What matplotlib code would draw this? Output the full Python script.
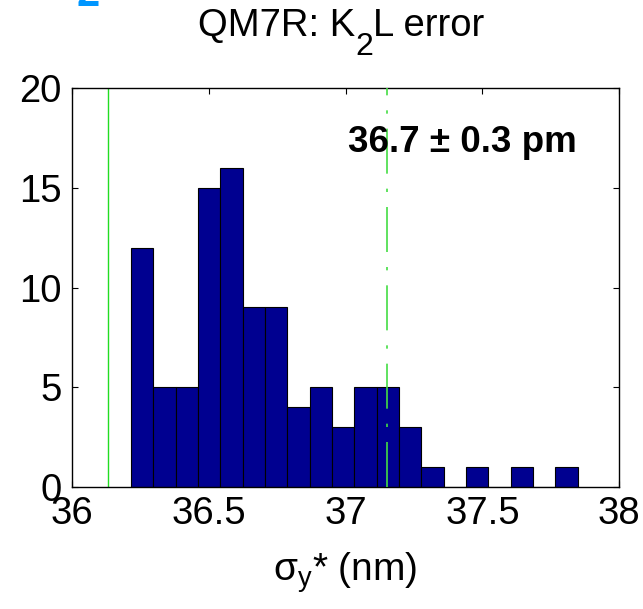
import matplotlib
matplotlib.use("Agg")
import matplotlib.pyplot as plt
import numpy as np

plt.rcParams['font.family'] = ['Liberation Sans', 'DejaVu Sans']
plt.rcParams['mathtext.fontset'] = 'custom'
plt.rcParams['mathtext.rm'] = 'Liberation Sans'
plt.rcParams['mathtext.it'] = 'Liberation Sans'
plt.rcParams['mathtext.bf'] = 'Liberation Sans:bold'

# Histogram data
bin_start = 36.2166
bin_width = 0.08157
counts = [12, 5, 5, 15, 16, 9, 9, 4, 5, 3, 5, 5, 3, 1, 0, 1, 0, 1, 0, 1]
ref_line = 36.1315      # solid green line
mean_line = 37.1527     # dash-dot green line
xticks = [36, 36.5, 37, 37.5, 38]
xticklabels = ['36', '36.5', '37', '37.5', '38']
yticks = [0, 5, 10, 15, 20]
title_parts = ['QM7R: K', '2', 'L error']
annot = '36.7 ± 0.3 pm'
xlabel = r'$\mathregular{\sigma_y}$* (nm)'

edges = bin_start + bin_width * np.arange(len(counts) + 1)

W, H = 643, 609
fig = plt.figure(figsize=(W / 100, H / 100), dpi=100)
ax = fig.add_axes([0.1115, 0.2008, 0.9632 - 0.1115, 0.855 - 0.2008])

ax.bar(edges[:-1], counts, width=bin_width, align='edge',
       color='#000090', edgecolor='black', linewidth=0.8, zorder=2)
ax.axvline(ref_line, color='#22dd22', lw=1.0, zorder=1)
ax.axvline(mean_line, color='#44dd44', lw=1.2,
           linestyle=(0, (27, 9, 2, 9)), zorder=3)

ax.set_xlim(36, 38)
ax.set_ylim(0, 20)
ax.set_xticks(xticks)
ax.set_xticklabels(xticklabels)
ax.set_yticks(yticks)
ax.tick_params(direction='in', top=True, right=True, length=4, width=0.8,
               labelsize=27.5, pad=7)
for s in ax.spines.values():
    s.set_linewidth(1.0)

ax.set_xlabel(xlabel, fontsize=28, labelpad=13)
ax.text(0.714, 0.863, annot, transform=ax.transAxes, ha='center', va='center',
        fontsize=26.5, fontweight='bold')
fig.text(76 / W, 1 - 6 / H, '2', color='#0096ff', fontsize=30,
         fontweight='bold', ha='left', va='baseline')

# Title built from pieces (MATLAB-style large subscript)
renderer = fig.canvas.get_renderer()
sizes = [27.5, 23, 27.5]
baselines = [36, 55, 36]
texts = []
widths = []
for part, fs, bl in zip(title_parts, sizes, baselines):
    t = fig.text(0, 1 - bl / H, part, fontsize=fs, ha='left', va='baseline')
    bb = t.get_window_extent(renderer=renderer)
    texts.append(t)
    widths.append(bb.width)
total = sum(widths)
x0 = 341.5 - total / 2
for t, w in zip(texts, widths):
    t.set_x(x0 / W)
    x0 += w

fig.savefig('out.png', dpi=100)
